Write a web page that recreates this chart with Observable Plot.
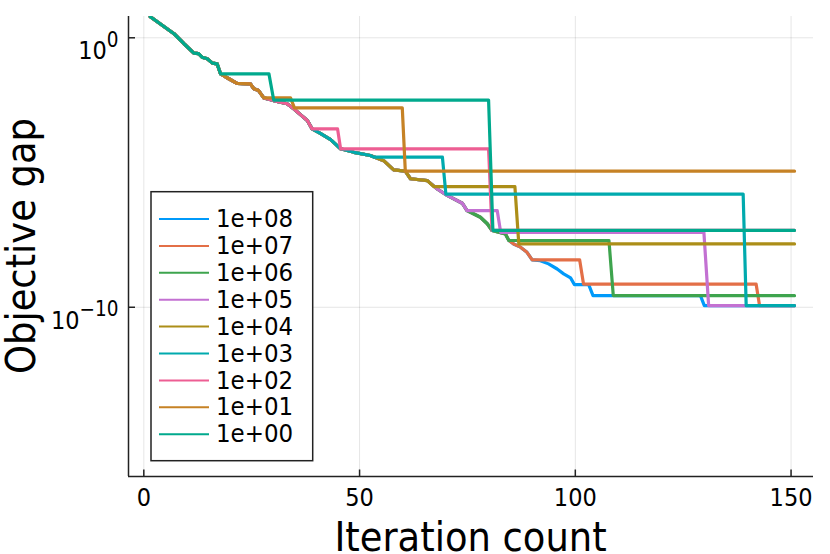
<!DOCTYPE html>
<html><head><meta charset="utf-8">
<script src="https://cdn.jsdelivr.net/npm/d3@7"></script>
<script src="https://cdn.jsdelivr.net/npm/@observablehq/plot@0.6"></script>
<style>
body{margin:0;background:#fff;}
#chart svg{font-family:"DejaVu Sans Condensed","DejaVu Sans",sans-serif;font-stretch:condensed;}
</style></head><body><div id="chart"></div>
<script>
// Series labels (legend order = draw order)
const seriesLabels = ["1e+08","1e+07","1e+06","1e+05","1e+04","1e+03","1e+02","1e+01","1e+00"];
const seriesColors = ["#009AFA","#E36F47","#3EA44E","#C371D2","#AC8E18","#00AAAE","#ED5E93","#C68225","#00A98D"];

// Shared descending path: [iteration, log10(objective gap)]
const base = [
  [1.5,0.78],[7,0.15],[9.3,-0.22],[11.6,-0.57],[12.7,-0.59],[13.5,-0.72],[14.7,-0.78],[15.9,-0.94],
  [17,-0.97],[17.8,-1.34],[19.7,-1.52],[21.6,-1.69],[24.7,-1.71],[25.5,-1.89],[26.6,-1.96],[27.8,-2.23],
  [30.1,-2.33],[33.2,-2.45],[34.8,-2.64],[36.3,-2.85],[37.9,-3.07],[39.0,-3.38],[40.9,-3.55],[43.3,-3.78],
  [45.6,-4.12],[48.7,-4.25],[52.5,-4.37],[55.6,-4.56],[57.9,-4.9],[60.6,-4.95],[61.8,-5.23],[65.7,-5.3],
  [68.0,-5.61],[70.3,-5.85],[73.8,-6.14],[74.9,-6.41],[78.0,-6.66],[79.6,-6.9],[80.7,-7.15],[83.8,-7.28],
  [84.6,-7.52],[85.7,-7.65],[87.3,-7.77],[88.8,-7.96],[90.0,-8.24],[91.9,-8.27],[93.8,-8.39],[95.8,-8.58],
  [97.3,-8.76],[98.9,-8.91],[99.8,-9.16],[103.1,-9.16],[104.1,-9.57],[129,-9.57],[129.9,-9.94],[150.8,-9.94]
];

// Where each series leaves the shared path (iteration)
const branchAt = [150.8, 90.0, 84.6, 74.9, 65.7, 52.5, 39.0, 27.8, 17.8];

// Each series' own vertices after it leaves the shared path: [iteration, log10(gap)]
const tail08 = [];
const tail07 = [[101.0,-8.24],[101.9,-9.14],[141.9,-9.14],[142.7,-9.94],[150.8,-9.94]];
const tail06 = [[107.8,-7.53],[108.8,-9.57],[150.8,-9.57]];
const tail05 = [[81.9,-6.41],[82.7,-7.22],[129.8,-7.22],[130.9,-9.94],[150.8,-9.94]];
const tail04 = [[67.2,-5.52],[86.0,-5.52],[86.9,-7.65],[150.8,-7.65]];
const tail03 = [[53.3,-4.43],[69.2,-4.43],[70.0,-5.8],[138.9,-5.8],[139.6,-9.94],[150.8,-9.94]];
const tail02 = [[44.9,-3.38],[45.6,-4.12],[79.9,-4.12],[80.7,-7.15],[150.8,-7.15]];
const tail01 = [[34.0,-2.23],[34.9,-2.6],[59.9,-2.6],[60.6,-4.95],[150.8,-4.95]];
const tail00 = [[29.0,-1.34],[30.1,-2.31],[79.9,-2.31],[80.9,-7.15],[150.8,-7.15]];
const tails = [tail08,tail07,tail06,tail05,tail04,tail03,tail02,tail01,tail00];

const xTicks = [0, 50, 100, 150];
const yTicks = [1e0, 1e-10];
const xDomain = [-3.55, 155.2];
const yDomain = [Math.pow(10,-16.28), Math.pow(10,0.79)];

const data = [];
seriesLabels.forEach((s, i) => {
  base.filter(p => p[0] <= branchAt[i]).concat(tails[i])
    .forEach(([x, e]) => data.push({series: s, x, y: Math.pow(10, e)}));
});

const W = 830, H = 554, mT = 16, mR = 17, mB = 78, mL = 128;
const innerW = W - mL - mR, innerH = H - mT - mB;

const plot = Plot.plot({
  width: W, height: H, marginTop: mT, marginRight: mR, marginBottom: mB, marginLeft: mL,
  style: {fontFamily: '"DejaVu Sans Condensed","DejaVu Sans",sans-serif', fontSize: "25px", background: "#fff", color: "#000", overflow: "visible"},
  x: {domain: xDomain},
  y: {type: "log", domain: yDomain},
  color: {domain: seriesLabels, range: seriesColors},
  marks: [
    Plot.gridX(xTicks, {stroke: "#000", strokeOpacity: 0.1, strokeWidth: 1}),
    Plot.gridY(yTicks, {stroke: "#000", strokeOpacity: 0.1, strokeWidth: 1}),
    Plot.line(data, {x: "x", y: "y", z: "series", stroke: "series", strokeWidth: 3.2, clip: true}),
    Plot.ruleX([xDomain[0]], {stroke: "#222", strokeWidth: 1.5}),
    Plot.ruleY([yDomain[0]], {stroke: "#222", strokeWidth: 1.5}),
    Plot.tickX(xTicks, {x: d => d, stroke: "#222", strokeWidth: 1.5, insetTop: innerH - 6.5}),
    Plot.tickY(yTicks, {y: d => d, stroke: "#222", strokeWidth: 1.5, insetRight: innerW - 7}),
    Plot.axisX(xTicks, {tickSize: 0, tickPadding: 12, label: null, fontSize: 25, tickFormat: d => String(d)}),
    Plot.axisY(yTicks, {tickSize: 0, tickPadding: 10, label: null, fontSize: 25,
      tickFormat: d => "10|" + String(Math.round(Math.log10(d))).replace("-", "\u2212")})
  ]
});

document.getElementById("chart").appendChild(plot);
const svg = d3.select(plot);

// superscript tick labels
svg.selectAll('g[aria-label="y-axis tick label"] text').each(function() {
  const t = d3.select(this);
  const [b, e] = t.text().split("|");
  t.text("").attr("dy", null);
  t.append("tspan").attr("dy", 13.4).attr("font-size", 25).text(b);
  t.append("tspan").attr("dy", -12.4).attr("font-size", 20.5).text(e);
});

// axis titles
svg.append("text").attr("x", mL + innerW / 2).attr("y", 551).attr("text-anchor", "middle")
  .attr("font-size", 41).attr("fill", "#000").text("Iteration count");
svg.append("text").attr("transform", `translate(35,${mT + innerH / 2}) rotate(-90)`).attr("text-anchor", "middle")
  .attr("font-size", 41).attr("fill", "#000").text("Objective gap");

// legend
const lg = svg.append("g");
lg.append("rect").attr("x", 151).attr("y", 191.7).attr("width", 161.7).attr("height", 269)
  .attr("fill", "#fff").attr("stroke", "#222").attr("stroke-width", 1.5);
seriesLabels.forEach((s, i) => {
  const cy = 219 + i * 26.9;
  lg.append("line").attr("x1", 159).attr("x2", 209).attr("y1", cy).attr("y2", cy)
    .attr("stroke", seriesColors[i]).attr("stroke-width", 2);
  lg.append("text").attr("x", 216).attr("y", cy).attr("dy", "0.32em").attr("font-size", 25.5)
    .attr("text-anchor", "start").attr("fill", "#000").text(s);
});
</script></body></html>
